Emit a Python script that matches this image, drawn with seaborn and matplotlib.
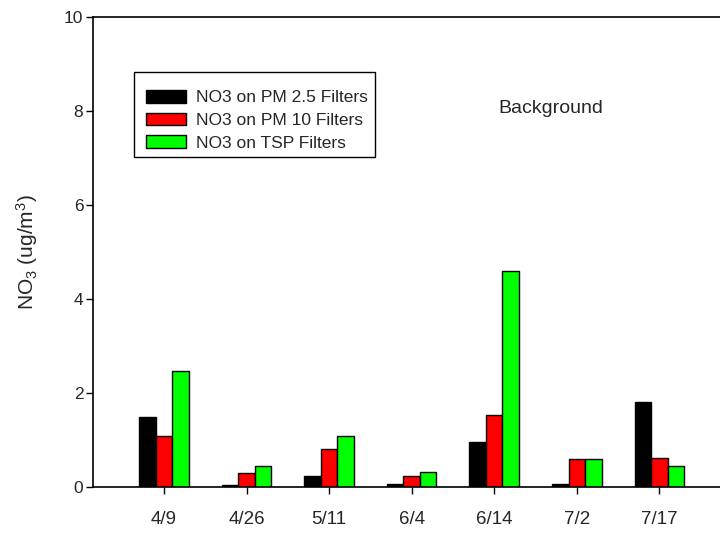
import matplotlib
matplotlib.use("Agg")
import matplotlib.pyplot as plt
from matplotlib.patches import Rectangle
import seaborn as sns
import pandas as pd

# Sampling dates and nitrate concentrations (ug/m3) by filter type
dates = ["4/9", "4/26", "5/11", "6/4", "6/14", "7/2", "7/17"]
pm25 = [1.49, 0.05, 0.24, 0.08, 0.96, 0.08, 1.81]
pm10 = [1.08, 0.30, 0.81, 0.24, 1.54, 0.61, 0.62]
tsp = [2.47, 0.45, 1.08, 0.32, 4.60, 0.61, 0.45]
series_names = ["NO3 on PM 2.5 Filters", "NO3 on PM 10 Filters", "NO3 on TSP Filters"]
series_colors = ["#000000", "#ff0000", "#00ff00"]

rows = []
for name, vals in zip(series_names, [pm25, pm10, tsp]):
    for d, v in zip(dates, vals):
        rows.append({"date": d, "filter": name, "no3": v})
df = pd.DataFrame(rows)

sns.set_theme(style="white")
plt.rcParams["font.family"] = ["Liberation Sans", "DejaVu Sans"]
plt.rcParams["mathtext.fontset"] = "custom"
plt.rcParams["mathtext.rm"] = "Liberation Sans"
plt.rcParams["mathtext.it"] = "Liberation Sans:italic"

W, H = 720, 538
fig = plt.figure(figsize=(7.2, 5.38), dpi=100)
ax = fig.add_axes([93 / W, 1 - 487.3 / H, 1 - 93 / W, (487.3 - 16.8) / H])

sns.barplot(
    data=df, x="date", y="no3", hue="filter",
    order=dates, hue_order=series_names,
    palette=series_colors, width=0.6,
    edgecolor="black", linewidth=1.0, saturation=1.0,
    ax=ax, legend=True,
)

ax.set_xlim(-0.86, 6.735)
ax.set_ylim(0, 10)
ax.set_yticks([0, 2, 4, 6, 8, 10])
ax.set_xlabel("")
ax.set_ylabel("NO$_3$ (ug/m$^3$)", fontsize=15)
ax.yaxis.set_label_coords(-0.084, 0.5)

for side in ["left", "bottom", "top"]:
    ax.spines[side].set_visible(True)
    ax.spines[side].set_color("black")
    ax.spines[side].set_linewidth(1.2)
ax.spines["right"].set_visible(False)

ax.tick_params(axis="both", which="major", direction="out", length=5, width=1.0,
               color="black", left=True, bottom=True, top=False, right=False)
ax.tick_params(axis="y", labelsize=12.5, pad=2)
ax.tick_params(axis="x", labelsize=13.5, pad=12)

ax.text(4.69, 8.06, "Background", fontsize=14, ha="center", va="center")

# Legend entries without their own frame; a plain box is drawn around them
handles, labels = ax.get_legend_handles_labels()
ax.legend(
    handles, labels,
    loc="upper left", bbox_to_anchor=(146 / W, 1 - 90 / H),
    bbox_transform=fig.transFigure,
    fontsize=12.5, frameon=False,
    handlelength=2.3, handleheight=0.75, handletextpad=0.6,
    labelspacing=0.42, borderpad=0.0, borderaxespad=0.0,
)
fig.patches.append(Rectangle(
    (133.5 / W, 1 - 157 / H), (375 - 133.5) / W, (157 - 72) / H,
    transform=fig.transFigure, fill=False, edgecolor="black", linewidth=1.0,
    zorder=5,
))

fig.savefig("out.png", dpi=100)
